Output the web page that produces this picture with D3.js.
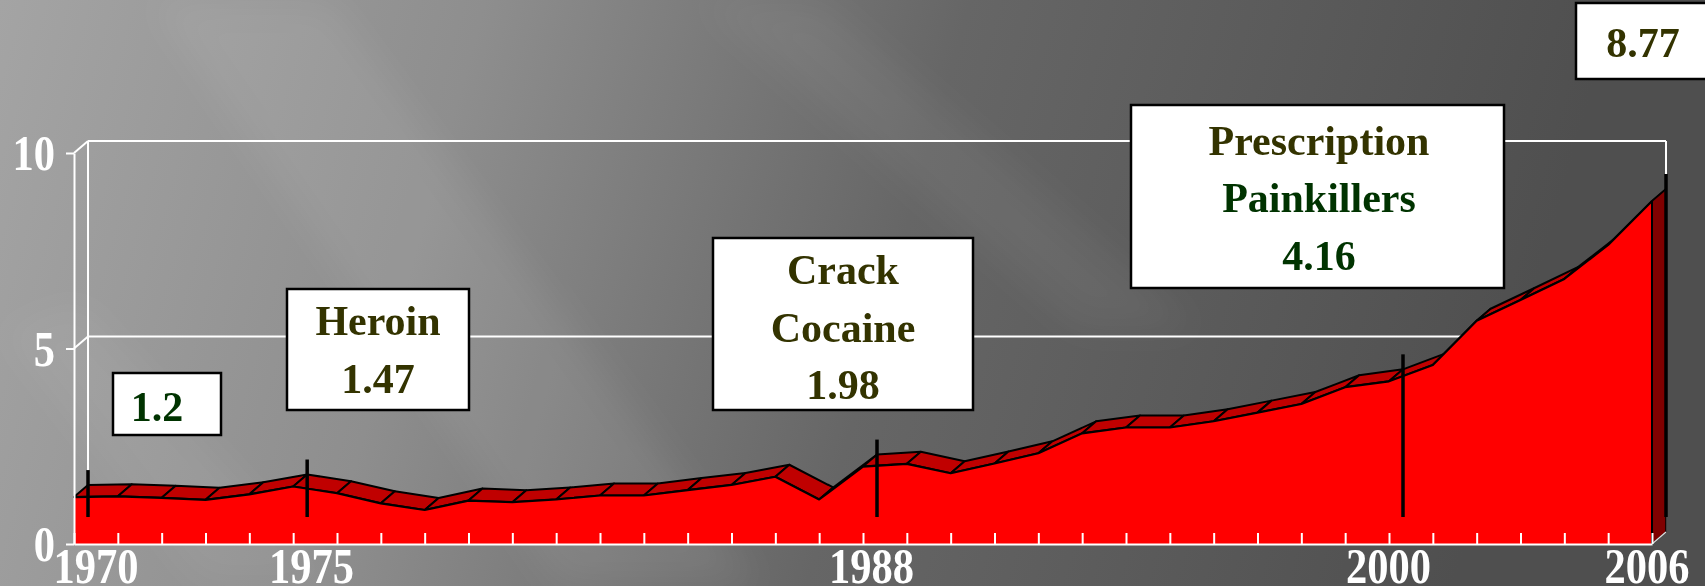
<!DOCTYPE html>
<html>
<head>
<meta charset="utf-8">
<script src="https://cdn.jsdelivr.net/npm/d3@7"></script>
<style>
  html, body { margin: 0; padding: 0; background: #6a6a6a; overflow: hidden; }
  svg { display: block; }
  text { font-family: "Liberation Serif", "Times New Roman", "DejaVu Serif", serif; font-weight: bold; }
</style>
</head>
<body>
<script>
// ---------- DATA ----------
const years = [1970, 1971, 1972, 1973, 1974, 1975, 1976, 1977, 1978, 1979,
               1980, 1981, 1982, 1983, 1984, 1985, 1986, 1987, 1988, 1989,
               1990, 1991, 1992, 1993, 1994, 1995, 1996, 1997, 1998, 1999,
               2000, 2001, 2002, 2003, 2004, 2005, 2006];
const rates = [1.20, 1.22, 1.18, 1.13, 1.27, 1.47, 1.30, 1.04, 0.87, 1.11,
               1.07, 1.14, 1.24, 1.24, 1.38, 1.51, 1.72, 1.14, 1.98, 2.05,
               1.81, 2.06, 2.32, 2.83, 2.98, 2.98, 3.14, 3.36, 3.58, 4.01,
               4.16, 4.58, 5.71, 6.24, 6.78, 7.65, 8.77];
const markedYears = [1970, 1975, 1988, 2000, 2006];
const xTickLabels = ["1970", "1975", "1988", "2000", "2006"];
const yTickValues = [0, 5, 10];
const annoText = [["1.2"], ["Heroin", "1.47"], ["Crack", "Cocaine", "1.98"],
                  ["Prescription", "Painkillers", "4.16"], ["8.77"]];
const annoIsGreen = [[true], [false, false], [false, false, false],
                     [false, true, true], [false]];

// ---------- LAYOUT ----------
const W = 1705, H = 586;
const DX = 14, DY = -12;          // 3-D depth offset
const OLIVE = "#333300", GREEN = "#003300";
const boxes = [
  {x: 113, y: 373, w: 108, h: 62, cx: 157, base: [421]},
  {x: 287, y: 289, w: 182, h: 121, cx: 378, base: [335, 393]},
  {x: 713, y: 238, w: 260, h: 172, cx: 843, base: [284, 342, 399]},
  {x: 1131, y: 105, w: 373, h: 183, cx: 1319, base: [155, 212, 270]},
  {x: 1576, y: 3, w: 145, h: 76, cx: 1643, base: [57]}
];

const svg = d3.select("body").append("svg").attr("width", W).attr("height", H);
const defs = svg.append("defs");

// background gradient
const bg = defs.append("linearGradient").attr("id", "bg")
  .attr("gradientUnits", "userSpaceOnUse")
  .attr("x1", 0).attr("y1", 0).attr("x2", 1500).attr("y2", 420);
bg.append("stop").attr("offset", 0).attr("stop-color", "#a4a4a4");
bg.append("stop").attr("offset", 0.3).attr("stop-color", "#8e8e8e");
bg.append("stop").attr("offset", 0.6).attr("stop-color", "#666666");
bg.append("stop").attr("offset", 1).attr("stop-color", "#4f4f4f");
defs.append("filter").attr("id", "blur").append("feGaussianBlur").attr("stdDeviation", 18);

svg.append("rect").attr("width", W).attr("height", H).attr("fill", "url(#bg)");
// soft diagonal light streaks
const streaks = svg.append("g").attr("filter", "url(#blur)");
streaks.append("polygon").attr("points", "150,0 330,0 760,586 560,586")
  .attr("fill", "#ffffff").attr("opacity", 0.07);
streaks.append("polygon").attr("points", "700,0 820,0 1200,330 1080,330")
  .attr("fill", "#ffffff").attr("opacity", 0.05);
streaks.append("polygon").attr("points", "0,330 80,300 340,586 200,586")
  .attr("fill", "#ffffff").attr("opacity", 0.05);

// scales
const x = d3.scaleLinear().domain([years[0], years[years.length - 1]]).range([74, 1652]);
const y = d3.scaleLinear().domain([0, 10]).range([544, 153]);
const xLab = d3.scaleLinear().domain([years[0], years[years.length - 1]])
  .range([x(years[0]) + 22, x(years[years.length - 1]) - 5]);

const pts = years.map((yr, i) => ({yr, v: rates[i]}));
const last = pts[pts.length - 1];

// ---------- back wall ----------
const wall = svg.append("g").attr("stroke", "#ffffff").attr("stroke-width", 2).attr("fill", "none");
yTickValues.forEach(t => {
  wall.append("line")
    .attr("x1", x(years[0]) + DX).attr("x2", x(last.yr) + DX)
    .attr("y1", y(t) + DY).attr("y2", y(t) + DY);
  wall.append("line")
    .attr("x1", x(years[0])).attr("y1", y(t))
    .attr("x2", x(years[0]) + DX).attr("y2", y(t) + DY);
});
wall.append("line").attr("x1", x(years[0]) + DX).attr("x2", x(years[0]) + DX)
  .attr("y1", y(10) + DY).attr("y2", y(0) + DY);
wall.append("line").attr("x1", x(last.yr) + DX).attr("x2", x(last.yr) + DX)
  .attr("y1", y(10) + DY).attr("y2", y(0) + DY);

// ---------- 3-D area ----------
const plot = svg.append("g");
plot.selectAll("path.rib").data(d3.pairs(pts)).join("path").attr("class", "rib")
  .attr("d", ([a, b]) => `M${x(a.yr)},${y(a.v)}L${x(b.yr)},${y(b.v)}` +
    `L${x(b.yr) + DX},${y(b.v) + DY}L${x(a.yr) + DX},${y(a.v) + DY}Z`)
  .attr("fill", "#c00000").attr("stroke", "#000").attr("stroke-width", 2)
  .attr("stroke-linejoin", "round");

// right side face
plot.append("path")
  .attr("d", `M${x(last.yr)},${y(last.v)}L${x(last.yr) + DX},${y(last.v) + DY}` +
    `L${x(last.yr) + DX},${y(0) + DY}L${x(last.yr)},${y(0)}Z`)
  .attr("fill", "#800000").attr("stroke", "#000").attr("stroke-width", 1.5);
plot.append("line")
  .attr("x1", x(last.yr)).attr("y1", y(0)).attr("x2", x(last.yr) + DX).attr("y2", y(0) + DY)
  .attr("stroke", "#dddddd").attr("stroke-width", 1.5);

// front face
plot.append("path").datum(pts)
  .attr("d", d3.area().x(d => x(d.yr)).y0(y(0)).y1(d => y(d.v)))
  .attr("fill", "#ff0000");
plot.append("path").datum(pts)
  .attr("d", d3.line().x(d => x(d.yr)).y(d => y(d.v)))
  .attr("fill", "none").attr("stroke", "#000").attr("stroke-width", 2.2)
  .attr("stroke-linejoin", "round");
plot.append("line")
  .attr("x1", x(last.yr)).attr("x2", x(last.yr)).attr("y1", y(last.v)).attr("y2", y(0))
  .attr("stroke", "#000").attr("stroke-width", 2);

// ---------- axes ----------
const yAxis = svg.append("g").attr("transform", `translate(${x(years[0])},0)`)
  .call(d3.axisLeft(y).tickValues(yTickValues).tickSize(8).tickSizeOuter(0).tickFormat(""));
const xAxis = svg.append("g").attr("transform", `translate(0,${y(0)})`)
  .call(d3.axisBottom(x).tickValues(years).tickSize(-11).tickSizeOuter(0).tickFormat(""));
[yAxis, xAxis].forEach(a => {
  a.selectAll("path, line").attr("stroke", "#ffffff").attr("stroke-width", 2);
});

// y tick labels
svg.append("g").selectAll("text").data(yTickValues).join("text")
  .attr("transform", t => `translate(${x(years[0]) - 19},${y(t)}) scale(0.85,1)`)
  .attr("text-anchor", "end").attr("dy", "0.34em")
  .attr("font-size", 50).attr("fill", "#ffffff")
  .text(t => t);

// x tick labels
svg.append("g").selectAll("text").data(xTickLabels).join("text")
  .attr("transform", d => `translate(${xLab(+d)},583) scale(0.85,1)`)
  .attr("text-anchor", "middle")
  .attr("font-size", 50).attr("fill", "#ffffff")
  .text(d => d);

// ---------- marker lines ----------
svg.append("g").selectAll("line").data(markedYears).join("line")
  .attr("x1", d => x(d) + DX).attr("x2", d => x(d) + DX)
  .attr("y1", y(0) - 27)
  .attr("y2", d => y(rates[years.indexOf(d)]) + DY - 15)
  .attr("stroke", "#000").attr("stroke-width", 3.5);

// ---------- annotation boxes ----------
const ann = svg.append("g").selectAll("g").data(boxes).join("g");
ann.append("rect")
  .attr("x", d => d.x).attr("y", d => d.y).attr("width", d => d.w).attr("height", d => d.h)
  .attr("fill", "#ffffff").attr("stroke", "#000").attr("stroke-width", 2.5);
ann.each(function(b, i) {
  d3.select(this).selectAll("text").data(annoText[i]).join("text")
    .attr("x", b.cx).attr("y", (t, j) => b.base[j])
    .attr("text-anchor", "middle").attr("font-size", 42)
    .attr("fill", (t, j) => annoIsGreen[i][j] ? GREEN : OLIVE)
    .text(t => t);
});
</script>
</body>
</html>
